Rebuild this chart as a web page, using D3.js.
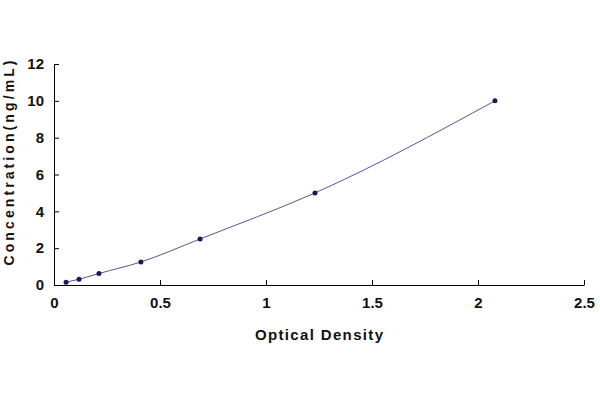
<!DOCTYPE html><html><head><meta charset="utf-8"><script src="https://cdn.jsdelivr.net/npm/d3@7"></script>
<style>body{margin:0;background:#fff}</style></head><body><svg id="c" width="600" height="400"></svg>
<script>
const od=[0.057,0.118,0.212,0.41,0.689,1.231,2.08];
const conc=[0.156,0.312,0.625,1.25,2.5,5,10];
const xTicks=[0,0.5,1,1.5,2,2.5];
const yTicks=[0,2,4,6,8,10,12];
const svg=d3.select("#c");
const x=d3.scaleLinear().domain([0,2.5]).range([54,584]);
const y=d3.scaleLinear().domain([0,12]).range([285,64]);
const font="Arial, 'Liberation Sans', sans-serif";
svg.append("g").attr("transform","translate(0,285)")
 .call(d3.axisBottom(x).tickValues(xTicks).tickFormat(d3.format("")).tickSizeInner(-5).tickSizeOuter(0).tickPadding(12))
 .call(g=>{g.select(".domain").attr("stroke","#000");g.selectAll("text").attr("font-size",15).attr("font-weight","bold").attr("font-family",font).attr("fill","#111");});
svg.append("g").attr("transform","translate(54,0)")
 .call(d3.axisLeft(y).tickValues(yTicks).tickSizeInner(-5).tickSizeOuter(0).tickPadding(10))
 .call(g=>{g.select(".domain").attr("stroke","#000");g.selectAll("text").attr("font-size",15).attr("font-weight","bold").attr("font-family",font).attr("fill","#111");});
const pts=od.map((d,i)=>[d,conc[i]]);
svg.append("path").datum(pts).attr("fill","none").attr("stroke","#55559a").attr("stroke-width",1)
 .attr("d",d3.line().x(d=>x(d[0])).y(d=>y(d[1])).curve(d3.curveMonotoneX));
svg.selectAll("circle").data(pts).join("circle").attr("cx",d=>x(d[0])).attr("cy",d=>y(d[1])).attr("r",2.5).attr("fill","#1a1a5a");
svg.append("text").attr("x",319).attr("y",340).attr("text-anchor","middle").attr("font-size",15).attr("font-weight","bold").attr("font-family",font).attr("fill","#111").attr("textLength",128).attr("lengthAdjust","spacing").text("Optical Density");
svg.append("text").attr("transform","translate(14,163) rotate(-90)").attr("text-anchor","middle").attr("font-size",14).attr("font-weight","bold").attr("font-family",font).attr("fill","#111").attr("textLength",205).attr("lengthAdjust","spacing").text("Concentration(ng/mL)");
</script></body></html>
